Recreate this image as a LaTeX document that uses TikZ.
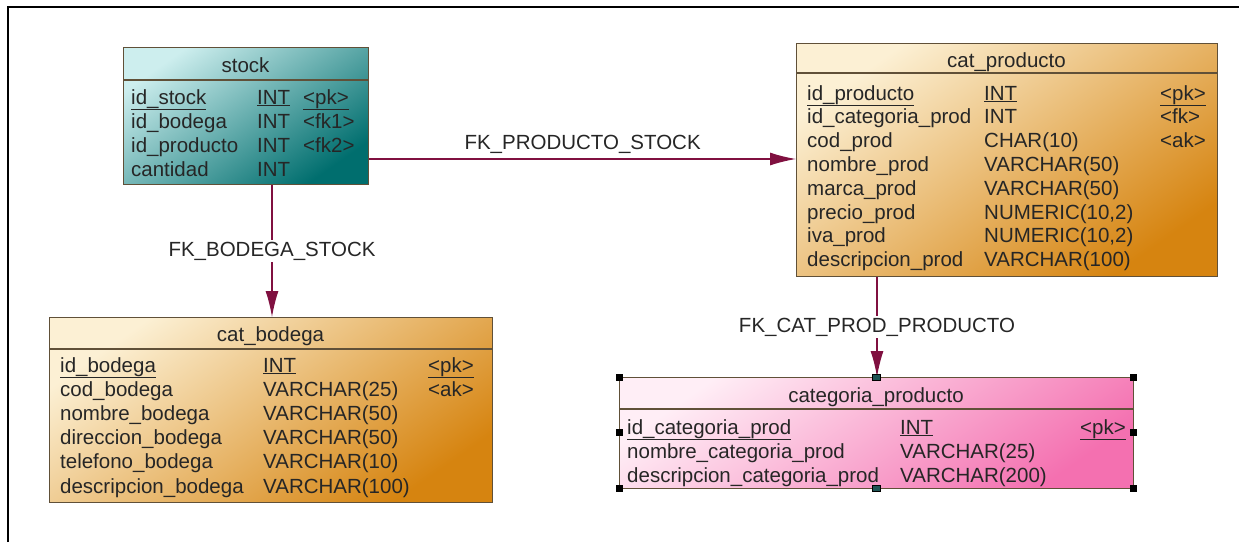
\documentclass[tikz,border=0pt]{standalone}
\usepackage{fontspec}
\setmainfont{Liberation Sans}
\usetikzlibrary{arrows.meta,positioning,calc}
\definecolor{fkline}{RGB}{128,16,64}
\definecolor{boxline}{RGB}{96,80,56}
\definecolor{tealtop}{RGB}{205,238,238}
\definecolor{tealbot}{RGB}{0,110,110}
\definecolor{orangetop}{RGB}{252,240,212}
\definecolor{orangebot}{RGB}{214,132,16}
\definecolor{pinktop}{RGB}{255,238,246}
\definecolor{pinkbot}{RGB}{244,112,176}
\definecolor{handleteal}{RGB}{30,84,84}

\begin{document}
\begin{tikzpicture}[
            x=1pt, y=-1pt,
            font=\fontsize{20.5}{24}\selectfont,
            entity/.style={draw=boxline,line width=1.2pt,inner sep=0pt,anchor=north west},
            teal entity/.style={entity,top color=tealtop,bottom color=tealbot,shading angle=35},
            orange entity/.style={entity,top color=orangetop,bottom color=orangebot,shading angle=35},
            pink entity/.style={entity,top color=pinktop,bottom color=pinkbot,shading angle=35},
            entity title/.style={anchor=base,inner sep=0pt,text=black!85},
            field/.style={anchor=base west,inner sep=0pt,text=black!85},
            sepline/.style={draw=boxline,line width=1.2pt},
            fk/.style={draw=fkline,line width=1.3pt,-{Latex[length=26pt,width=13pt]}},
            fk label/.style={inner sep=2pt,text=black!85}
        ]
            \useasboundingbox (0,0) rectangle (1239,542);
            \draw[line width=2pt] (8,542) -- (8,7) -- (1239,7);

            % tables
            \node[teal entity,minimum width=245,minimum height=137] (stock) at (123,47) {};
            \node[orange entity,minimum width=421,minimum height=233] (catprod) at (796,43) {};
            \node[orange entity,minimum width=443,minimum height=185] (catbod) at (49,317) {};
            \node[pink entity,minimum width=514,minimum height=111] (catcat) at (619,377) {};

            \draw[sepline] (stock.west |- 0,80) -- (stock.east |- 0,80);
            \draw[sepline] (catprod.west |- 0,73) -- (catprod.east |- 0,73);
            \draw[sepline] (catbod.west |- 0,349) -- (catbod.east |- 0,349);
            \draw[sepline] (catcat.west |- 0,409) -- (catcat.east |- 0,409);

            % stock
            \node[entity title] (stock-t) at (245.5,72) {stock};
            \node[field] (stock-n0) at (131,104) {\underline{id\_stock}};
            \node[field] (stock-y0) at (257,104) {\underline{INT}};
            \node[field] (stock-k0) at (303,104) {\underline{<pk>}};
            \foreach \n/\t/\k [count=\i] in {id\_bodega/INT/<fk1>,id\_producto/INT/<fk2>,cantidad/INT/{}}{
                \node[field] (stock-n\i) at (131,104+24*\i) {\n};
                \node[field] (stock-y\i) at (257,104+24*\i) {\t};
                \node[field] (stock-k\i) at (303,104+24*\i) {\k};
            }

            % cat_producto
            \node[entity title] (catprod-t) at (1006.5,67) {cat\_producto};
            \node[field] (catprod-n0) at (807,100) {\underline{id\_producto}};
            \node[field] (catprod-y0) at (984,100) {\underline{INT}};
            \node[field] (catprod-k0) at (1160,100) {\underline{<pk>}};
            \foreach \n/\t/\k [count=\i] in {id\_categoria\_prod/INT/<fk>,cod\_prod/CHAR(10)/<ak>,
                nombre\_prod/VARCHAR(50)/{},marca\_prod/VARCHAR(50)/{},precio\_prod/{NUMERIC(10,2)}/{},
                iva\_prod/{NUMERIC(10,2)}/{},descripcion\_prod/VARCHAR(100)/{}}{
                \node[field] (catprod-n\i) at (807,100+23.8*\i) {\n};
                \node[field] (catprod-y\i) at (984,100+23.8*\i) {\t};
                \node[field] (catprod-k\i) at (1160,100+23.8*\i) {\k};
            }

            % cat_bodega
            \node[entity title] (catbod-t) at (270.5,341) {cat\_bodega};
            \node[field] (catbod-n0) at (60,372) {\underline{id\_bodega}};
            \node[field] (catbod-y0) at (263,372) {\underline{INT}};
            \node[field] (catbod-k0) at (428,372) {\underline{<pk>}};
            \foreach \n/\t/\k [count=\i] in {cod\_bodega/VARCHAR(25)/<ak>,nombre\_bodega/VARCHAR(50)/{},
                direccion\_bodega/VARCHAR(50)/{},telefono\_bodega/VARCHAR(10)/{},descripcion\_bodega/VARCHAR(100)/{}}{
                \node[field] (catbod-n\i) at (60,372+24.2*\i) {\n};
                \node[field] (catbod-y\i) at (263,372+24.2*\i) {\t};
                \node[field] (catbod-k\i) at (428,372+24.2*\i) {\k};
            }

            % categoria_producto
            \node[entity title] (catcat-t) at (876,402) {categoria\_producto};
            \node[field] (catcat-n0) at (627,434) {\underline{id\_categoria\_prod}};
            \node[field] (catcat-y0) at (900,434) {\underline{INT}};
            \node[field] (catcat-k0) at (1080,434) {\underline{<pk>}};
            \node[field] (catcat-n1) at (627,458) {nombre\_categoria\_prod};
            \node[field] (catcat-y1) at (900,458) {VARCHAR(25)};
            \node[field] (catcat-n2) at (627,482) {descripcion\_categoria\_prod};
            \node[field] (catcat-y2) at (900,482) {VARCHAR(200)};

            % references
            \draw[fk] (stock.east |- 0,159) -- node[fk label,above=3pt] (lbl-ps) {FK\_PRODUCTO\_STOCK} (catprod.west |- 0,159);
            \draw[fk] (stock.south -| 272,0) -- node[fk label,fill=white] (lbl-bs) {FK\_BODEGA\_STOCK} (catbod.north -| 272,0);
            \draw[fk] (catprod.south -| 877,0) -- node[fk label,fill=white] (lbl-cp) {FK\_CAT\_PROD\_PRODUCTO} (catcat.north -| 877,0);

            % selection handles
            \foreach \hx/\hy in {619/377,1133/377,619/488,1133/488,619/432.5,1133/432.5}
                \fill[black] (\hx-3.5,\hy-3.5) rectangle ++(7,7);
            \foreach \hx/\hy in {876/377,876/488}
                \filldraw[fill=handleteal,draw=black,line width=0.6pt] (\hx-4,\hy-3) rectangle ++(8,6);
        \end{tikzpicture}
\end{document}
